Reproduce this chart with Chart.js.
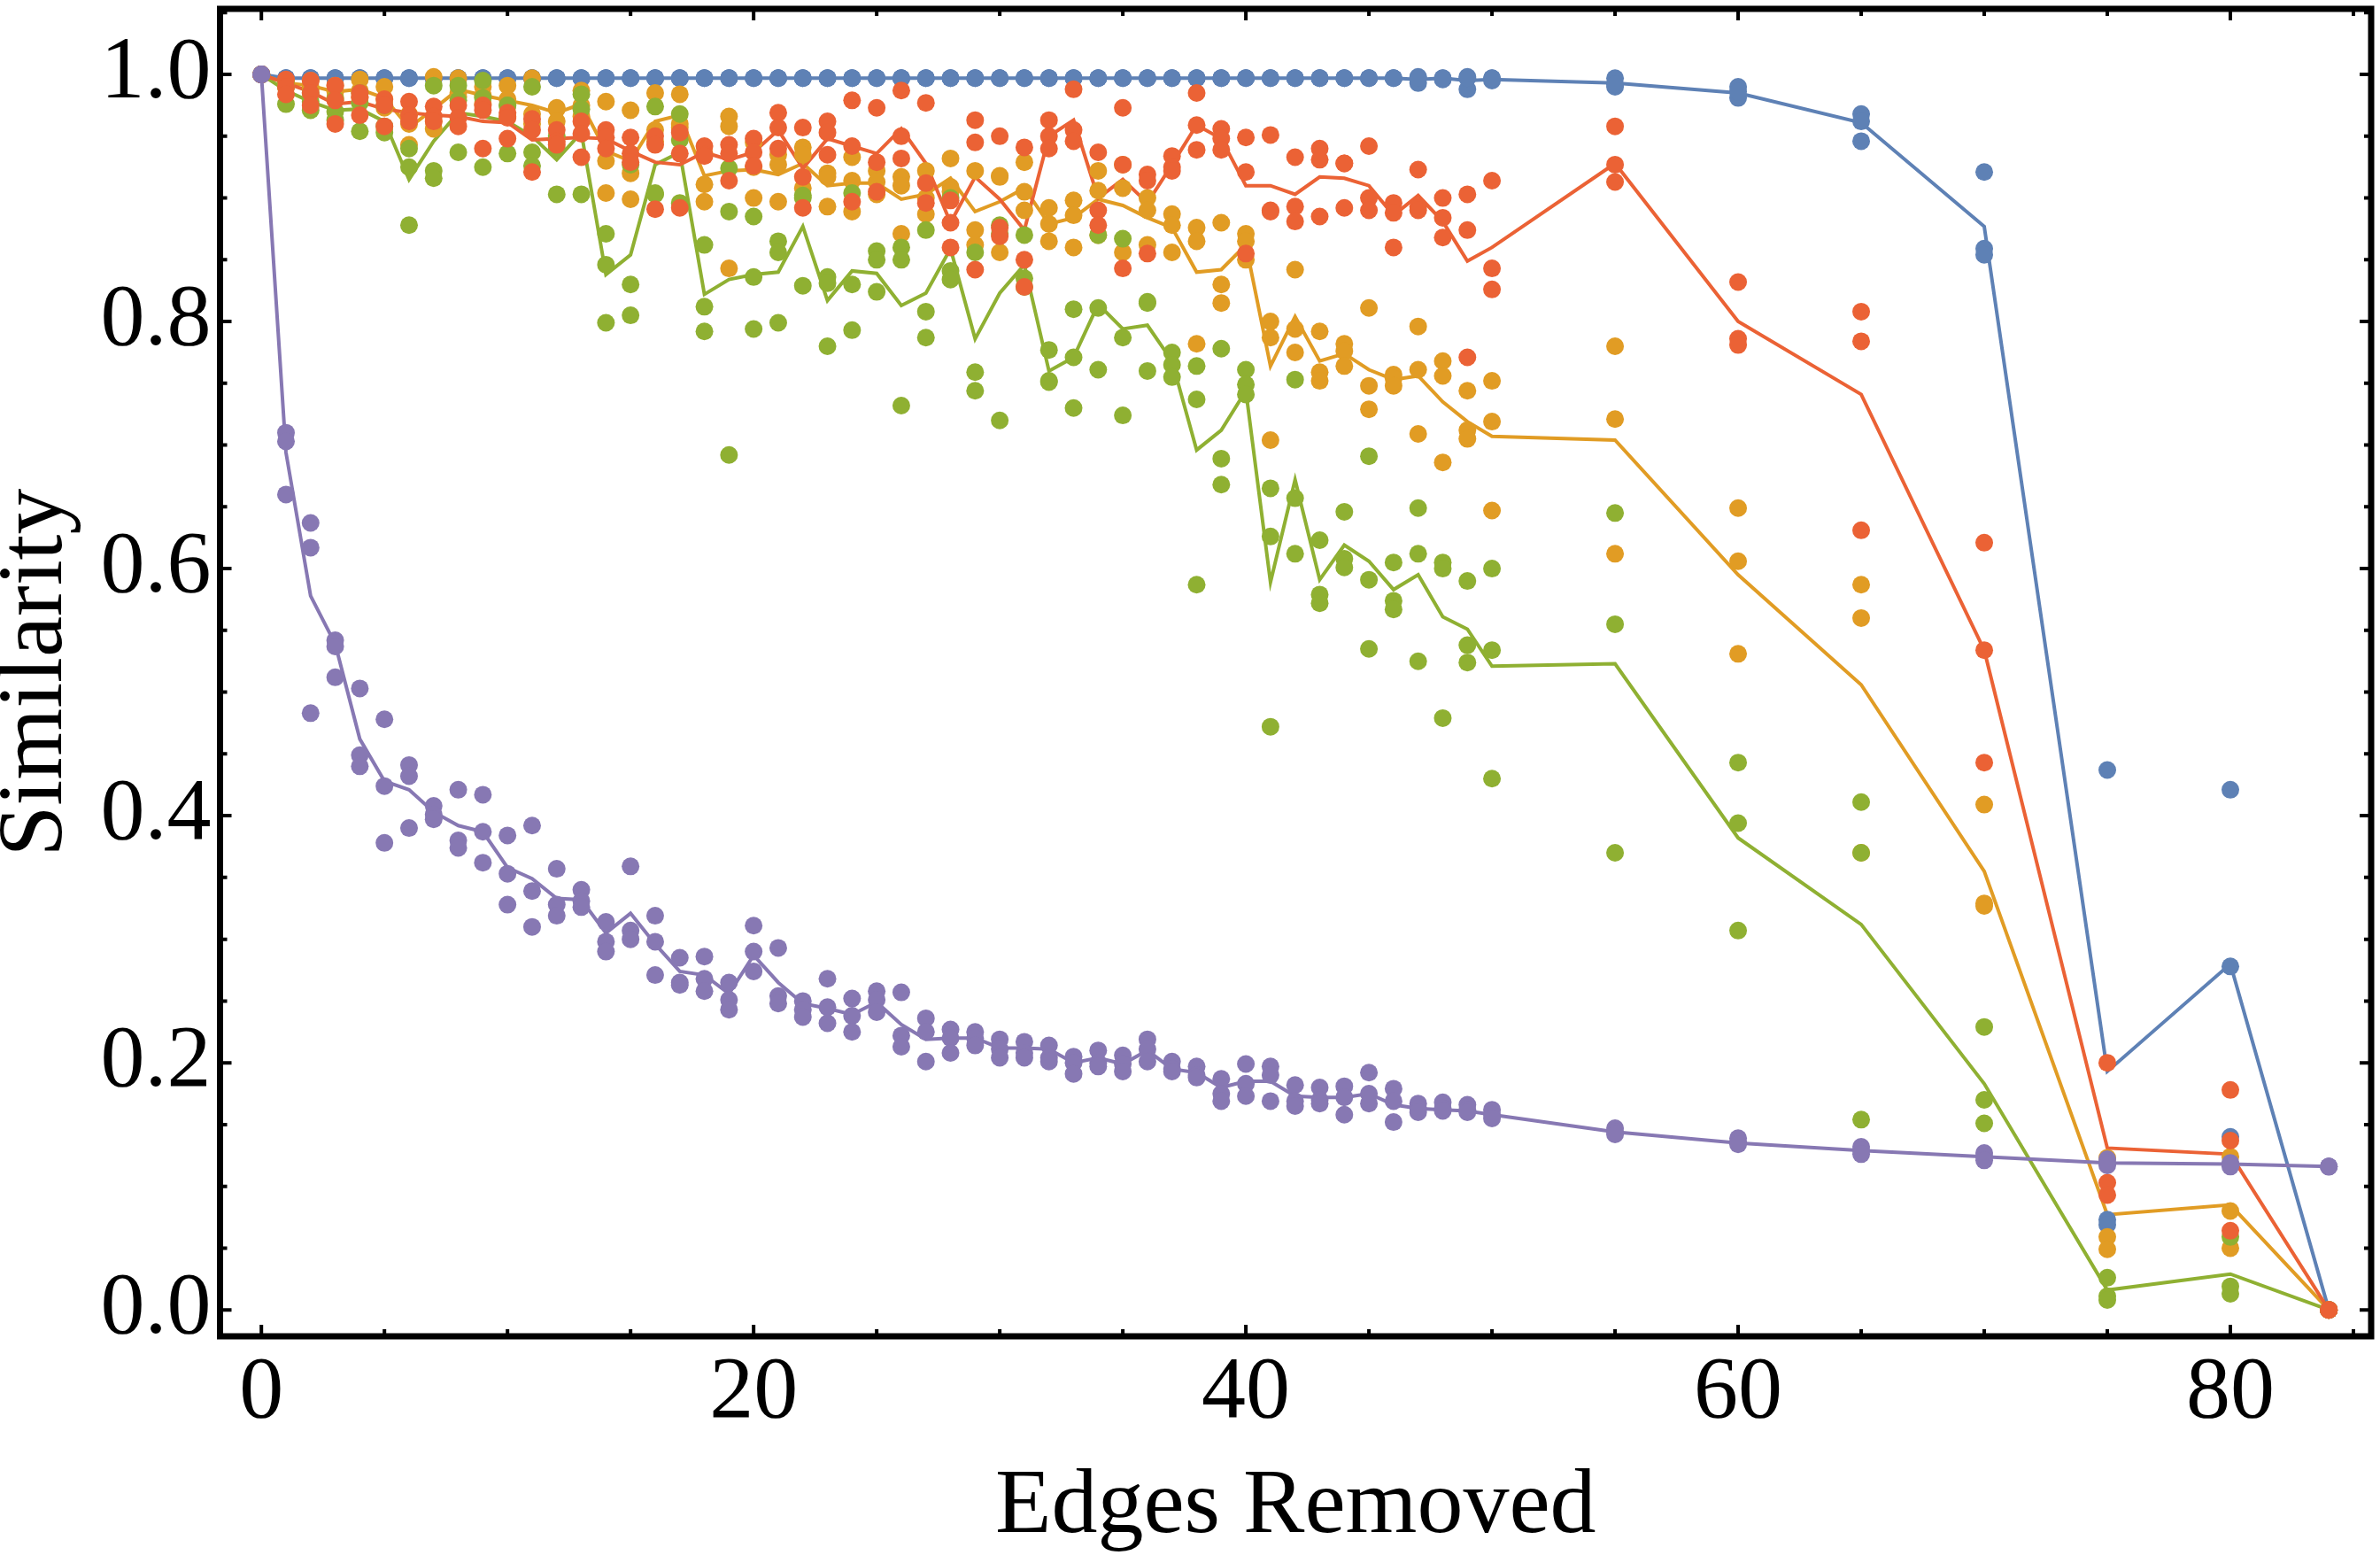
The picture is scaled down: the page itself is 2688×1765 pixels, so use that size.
<!DOCTYPE html>
<html><head><meta charset="utf-8">
<script src="https://cdn.jsdelivr.net/npm/chart.js@4.4.1/dist/chart.umd.min.js"></script>
<style>html,body{margin:0;padding:0;background:#fff;}canvas{display:block;}</style>
</head><body>
<canvas id="c" width="2688" height="1765"></canvas>
<script>
const xs = [0,1,2,3,4,5,6,7,8,9,10,11,12,13,14,15,16,17,18,19,20,21,22,23,24,25,26,27,28,29,30,31,32,33,34,35,36,37,38,39,40,41,42,43,44,45,46,47,48,49,50,55,60,65,70,75,80,84];
const xTickValues = [0,20,40,60,80];
const yTickValues = [0,0.2,0.4,0.6,0.8,1.0];
const xTitle = 'Edges Removed';
const yTitle = 'Similarity';

const blue = [
[1,1,1],[0.997,0.997,0.997],[0.997,0.997,0.997],[0.997,0.997,0.997],[0.997,0.997,0.997],[0.997,0.997,0.997],
[0.997,0.997,0.997],[0.997,0.997,0.997],[0.997,0.997,0.997],[0.997,0.997,0.997],[0.997,0.997,0.997],
[0.997,0.997,0.997],[0.997,0.997,0.997],[0.997,0.997,0.997],[0.997,0.997,0.997],[0.997,0.997,0.997],
[0.997,0.997,0.997],[0.997,0.997,0.997],[0.997,0.997,0.997],[0.997,0.997,0.997],[0.997,0.997,0.997],
[0.997,0.997,0.997],[0.997,0.997,0.997],[0.997,0.997,0.997],[0.997,0.997,0.997],[0.997,0.997,0.997],
[0.997,0.997,0.997],[0.997,0.997,0.997],[0.997,0.997,0.997],[0.997,0.997,0.997],[0.997,0.997,0.997],
[0.997,0.997,0.997],[0.997,0.997,0.997],[0.997,0.997,0.997],[0.997,0.997,0.997],[0.997,0.997,0.997],
[0.997,0.997,0.997],[0.997,0.997,0.997],[0.997,0.997,0.997],[0.997,0.997,0.997],[0.997,0.997,0.997],
[0.997,0.997,0.997],[0.997,0.997,0.997],[0.997,0.997,0.997],[0.997,0.997,0.997],[0.997,0.997,0.997],
[0.997,0.997,0.997],[0.998,0.993,0.997],[0.997,0.996,0.997],[0.998,0.988,0.997],[0.997,0.995,0.997],
[0.997,0.99,0.992],[0.99,0.981,0.986],[0.968,0.962,0.946],[0.921,0.859,0.854],[0.437,0.073,0.069],[0.421,0.278,0.14],[0,0,0]
];
const blueMean = [1,0.997,0.997,0.997,0.997,0.997,0.997,0.997,0.997,0.997,0.997,0.997,0.997,0.997,0.997,0.997,0.997,0.997,0.997,0.997,0.997,0.997,0.997,0.997,0.997,0.997,0.997,0.997,0.997,0.997,0.997,0.997,0.997,0.997,0.997,0.997,0.997,0.997,0.997,0.997,0.997,0.997,0.997,0.997,0.997,0.997,0.997,0.996,0.997,0.995,0.996,0.993,0.985,0.961,0.877,0.193,0.28,0];

const orange = [
[1,1,1],[0.995,0.993,0.99],[0.995,0.99,0.988],[0.991,0.986,0.981],[0.996,0.987,0.981],[0.99,0.98,0.973],
[0.968,0.96,0.943],[0.998,0.962,0.956],[0.997,0.985,0.982],[0.99,0.983,0.976],[0.991,0.98,0.966],
[0.997,0.968,0.96],[0.973,0.972,0.962],[0.987,0.975,0.966],[0.978,0.93,0.904],[0.971,0.92,0.899],
[0.985,0.955,0.946],[0.984,0.96,0.957],[0.936,0.911,0.897],[0.966,0.958,0.843],[0.945,0.925,0.9],
[0.935,0.927,0.897],[0.941,0.935,0.908],[0.92,0.917,0.893],[0.933,0.914,0.889],[0.922,0.913,0.903],
[0.917,0.91,0.871],[0.922,0.9,0.887],[0.932,0.909,0.905],[0.922,0.874,0.862],[0.918,0.917,0.856],
[0.929,0.905,0.89],[0.892,0.879,0.865],[0.898,0.886,0.86],[0.922,0.906,0.87],[0.927,0.908,0.856],
[0.9,0.89,0.862],[0.887,0.878,0.856],[0.876,0.865,0.782],[0.88,0.83,0.815],[0.871,0.865,0.85],
[0.8,0.787,0.704],[0.842,0.794,0.775],[0.792,0.759,0.752],[0.782,0.776,0.764],[0.811,0.748,0.729],
[0.757,0.754,0.748],[0.796,0.761,0.709],[0.768,0.756,0.686],[0.744,0.712,0.705],[0.752,0.719,0.647],
[0.78,0.721,0.612],[0.649,0.606,0.531],[0.587,0.56,0.37],[0.409,0.327,0.329],[0.123,0.059,0.049],[0.124,0.08,0.05],[0,0,0]
];
const orangeMean = [1,0.993,0.991,0.986,0.988,0.981,0.957,0.972,0.988,0.983,0.979,0.975,0.969,0.976,0.938,0.93,0.962,0.967,0.918,0.922,0.923,0.919,0.928,0.91,0.912,0.912,0.899,0.903,0.916,0.889,0.897,0.908,0.879,0.884,0.899,0.894,0.884,0.876,0.84,0.842,0.862,0.764,0.804,0.768,0.774,0.761,0.753,0.756,0.735,0.719,0.707,0.704,0.595,0.506,0.355,0.077,0.085,0];

const green = [
[1,1,1],[0.995,0.99,0.976],[0.985,0.978,0.971],[0.98,0.97,0.963],[0.985,0.977,0.954],[0.975,0.958,0.953],
[0.94,0.925,0.878],[0.991,0.922,0.916],[0.991,0.979,0.937],[0.995,0.981,0.925],[0.975,0.975,0.936],
[0.99,0.937,0.926],[0.95,0.94,0.903],[0.984,0.972,0.903],[0.871,0.846,0.799],[0.927,0.83,0.805],
[0.974,0.904,0.903],[0.968,0.947,0.896],[0.862,0.812,0.792],[0.924,0.889,0.692],[0.885,0.836,0.794],
[0.865,0.856,0.799],[0.902,0.9,0.829],[0.836,0.831,0.78],[0.904,0.83,0.793],[0.857,0.85,0.824],
[0.86,0.85,0.732],[0.874,0.808,0.787],[0.9,0.841,0.834],[0.856,0.759,0.744],[0.878,0.871,0.72],
[0.87,0.835,0.828],[0.777,0.752,0.751],[0.81,0.771,0.73],[0.87,0.811,0.761],[0.867,0.787,0.724],
[0.816,0.815,0.76],[0.775,0.765,0.755],[0.764,0.737,0.587],[0.778,0.689,0.668],[0.761,0.749,0.741],
[0.665,0.626,0.472],[0.753,0.657,0.612],[0.623,0.579,0.572],[0.646,0.608,0.601],[0.691,0.591,0.535],
[0.605,0.574,0.567],[0.649,0.612,0.525],[0.605,0.6,0.479],[0.59,0.538,0.524],[0.6,0.534,0.43],
[0.645,0.555,0.37],[0.443,0.394,0.307],[0.411,0.37,0.154],[0.229,0.17,0.151],[0.026,0.011,0.008],[0.059,0.019,0.013],[0,0,0]
];
const greenMean = [1,0.987,0.978,0.971,0.972,0.962,0.915,0.946,0.969,0.966,0.962,0.95,0.931,0.953,0.838,0.854,0.927,0.937,0.822,0.834,0.838,0.84,0.877,0.817,0.841,0.839,0.813,0.823,0.859,0.786,0.823,0.846,0.76,0.771,0.814,0.794,0.797,0.768,0.696,0.712,0.744,0.589,0.672,0.591,0.619,0.606,0.583,0.595,0.561,0.551,0.521,0.523,0.382,0.312,0.183,0.016,0.029,0];

const red = [
[1,1,1],[0.996,0.99,0.984],[0.995,0.985,0.975],[0.991,0.979,0.96],[0.985,0.982,0.967],[0.98,0.975,0.958],
[0.978,0.967,0.962],[0.974,0.966,0.962],[0.975,0.965,0.958],[0.975,0.971,0.94],[0.969,0.965,0.948],
[0.964,0.955,0.921],[0.955,0.946,0.943],[0.962,0.952,0.933],[0.955,0.949,0.94],[0.949,0.936,0.929],
[0.95,0.943,0.891],[0.953,0.936,0.892],[0.942,0.935,0.934],[0.943,0.936,0.914],[0.948,0.937,0.926],
[0.969,0.957,0.94],[0.957,0.917,0.892],[0.962,0.953,0.935],[0.979,0.942,0.897],[0.973,0.929,0.905],
[0.987,0.95,0.932],[0.977,0.912,0.896],[0.898,0.88,0.86],[0.963,0.945,0.842],[0.95,0.876,0.869],
[0.941,0.85,0.828],[0.963,0.95,0.94],[0.988,0.955,0.946],[0.937,0.89,0.878],[0.973,0.927,0.843],
[0.919,0.914,0.855],[0.934,0.925,0.922],[0.985,0.959,0.939],[0.956,0.948,0.939],[0.949,0.921,0.855],
[0.951,0.89,0.889],[0.933,0.893,0.881],[0.94,0.931,0.885],[0.928,0.928,0.892],[0.942,0.9,0.89],
[0.896,0.888,0.86],[0.923,0.893,0.89],[0.9,0.884,0.868],[0.903,0.874,0.771],[0.914,0.843,0.826],
[0.958,0.927,0.913],[0.832,0.786,0.781],[0.808,0.784,0.631],[0.621,0.534,0.443],[0.2,0.103,0.093],[0.178,0.137,0.064],[0,0,0]
];
const redMean = [1,0.993,0.986,0.976,0.978,0.972,0.969,0.967,0.966,0.962,0.961,0.947,0.948,0.949,0.948,0.938,0.929,0.927,0.937,0.931,0.937,0.955,0.924,0.948,0.942,0.936,0.956,0.928,0.88,0.917,0.899,0.874,0.95,0.963,0.9,0.915,0.896,0.927,0.959,0.948,0.91,0.91,0.903,0.917,0.916,0.91,0.886,0.902,0.881,0.849,0.86,0.928,0.8,0.741,0.534,0.131,0.126,0];

const purple = [
[1,1,1],[0.71,0.703,0.66],[0.637,0.617,0.483],[0.542,0.537,0.512],[0.503,0.449,0.44],[0.478,0.424,0.378],
[0.441,0.432,0.39],[0.408,0.401,0.397],[0.421,0.38,0.374],[0.417,0.387,0.362],[0.384,0.353,0.328],
[0.392,0.339,0.31],[0.357,0.328,0.319],[0.34,0.331,0.326],[0.314,0.298,0.29],[0.359,0.307,0.3],
[0.319,0.298,0.271],[0.285,0.265,0.263],[0.286,0.268,0.258],[0.265,0.251,0.243],[0.311,0.29,0.274],
[0.293,0.254,0.248],[0.25,0.243,0.237],[0.268,0.245,0.232],[0.252,0.238,0.225],[0.258,0.251,0.241],
[0.257,0.222,0.213],[0.236,0.225,0.201],[0.227,0.22,0.208],[0.225,0.22,0.214],[0.219,0.211,0.204],
[0.217,0.208,0.204],[0.214,0.204,0.201],[0.205,0.2,0.191],[0.21,0.2,0.197],[0.206,0.199,0.193],
[0.219,0.211,0.201],[0.201,0.195,0.193],[0.197,0.19,0.188],[0.187,0.175,0.169],[0.199,0.183,0.173],
[0.197,0.19,0.169],[0.182,0.169,0.165],[0.18,0.17,0.167],[0.181,0.172,0.158],[0.192,0.175,0.167],
[0.179,0.169,0.152],[0.167,0.163,0.16],[0.168,0.163,0.161],[0.166,0.162,0.16],[0.162,0.158,0.155],
[0.147,0.144,0.142],[0.139,0.136,0.134],[0.132,0.129,0.126],[0.127,0.124,0.121],[0.122,0.119,0.117],[0.119,0.118,0.116],[0.116,0.116,0.116]
];
const purpleMean = [1,0.694,0.578,0.539,0.462,0.428,0.421,0.403,0.392,0.387,0.358,0.349,0.333,0.332,0.305,0.321,0.296,0.274,0.271,0.256,0.287,0.265,0.248,0.244,0.239,0.249,0.231,0.219,0.22,0.22,0.212,0.212,0.211,0.2,0.204,0.199,0.21,0.195,0.192,0.18,0.185,0.185,0.173,0.172,0.172,0.175,0.166,0.163,0.162,0.161,0.158,0.144,0.135,0.129,0.124,0.119,0.118,0.116];

const COL = {blue:'#5E81B5', orange:'#E19C24', green:'#8FB032', red:'#EB6235', purple:'#8778B3'};

function pts(trials){ const out=[]; trials.forEach((t,i)=>t.forEach(v=>out.push({x:xs[i], y:v}))); return out; }
function ln(m){ return m.map((v,i)=>({x:xs[i], y:v})); }

const series = [
  ['blue', blue, blueMean, 5],
  ['orange', orange, orangeMean, 4],
  ['green', green, greenMean, 3],
  ['red', red, redMean, 2],
  ['purple', purple, purpleMean, 1]
];
const datasets = [];
series.forEach(([name, tr, mean, ord])=>{
  datasets.push({data: ln(mean), showLine:true, borderColor:COL[name], borderWidth:4, pointRadius:0, tension:0, fill:false, order:10+ord});
  datasets.push({data: pts(tr), showLine:false, backgroundColor:COL[name], borderWidth:0, pointRadius:10, pointHoverRadius:10, order:ord});
});

const framePlugin = {
  id:'frame',
  afterDatasetsDraw(chart){
    const {ctx, chartArea:a, scales:{x,y}} = chart;
    ctx.save();
    ctx.strokeStyle='#000';
    ctx.lineWidth=4;
    ctx.beginPath();
    for (let v=0; v<=85; v+=5){
      const p=x.getPixelForValue(v); const L=(v%20===0)?13:8;
      ctx.moveTo(p,a.bottom); ctx.lineTo(p,a.bottom-L);
      ctx.moveTo(p,a.top); ctx.lineTo(p,a.top+L);
    }
    for (let k=0; k<=21; k++){
      const v=k*0.05; const p=y.getPixelForValue(v); const L=(k%4===0)?13:8;
      ctx.moveTo(a.left,p); ctx.lineTo(a.left+L,p);
      ctx.moveTo(a.right,p); ctx.lineTo(a.right-L,p);
    }
    ctx.stroke();
    ctx.lineWidth=7;
    ctx.strokeRect(a.left,a.top,a.right-a.left,a.bottom-a.top);
    ctx.restore();
  }
};

const serif = 'Liberation Serif';
new Chart(document.getElementById('c'), {
  type:'scatter',
  data:{datasets},
  options:{
    responsive:false, animation:false, devicePixelRatio:1,
    layout:{padding:{left:0,right:4.5,top:2.5,bottom:0}},
    plugins:{legend:{display:false}, tooltip:{enabled:false}},
    scales:{
      x:{type:'linear', min:-1.68, max:85.72,
        afterBuildTicks:s=>{s.ticks=xTickValues.map(v=>({value:v}));},
        afterFit:s=>{s.height=256; s.paddingLeft=0; s.paddingRight=0;},
        grid:{display:false, drawTicks:false}, border:{display:false},
        ticks:{font:{family:serif,size:100,lineHeight:1.2}, color:'#000', padding:5, maxRotation:0, autoSkip:false},
        title:{display:true, text:xTitle, font:{family:serif,size:104,lineHeight:1.2}, color:'#000', padding:{top:0,bottom:0}}
      },
      y:{type:'linear', min:-0.0214, max:1.0531,
        afterBuildTicks:s=>{s.ticks=yTickValues.map(v=>({value:v}));},
        afterFit:s=>{s.width=248.5; s.paddingTop=0; s.paddingBottom=0;},
        grid:{display:false, drawTicks:false}, border:{display:false},
        ticks:{font:{family:serif,size:100,lineHeight:1.2}, color:'#000', padding:10, autoSkip:false, callback:v=>v.toFixed(1)},
        title:{display:true, text:yTitle, font:{family:serif,size:104,lineHeight:0.8}, color:'#000', padding:{top:0,bottom:0}}
      }
    }
  },
  plugins:[framePlugin]
});
</script>
</body></html>
